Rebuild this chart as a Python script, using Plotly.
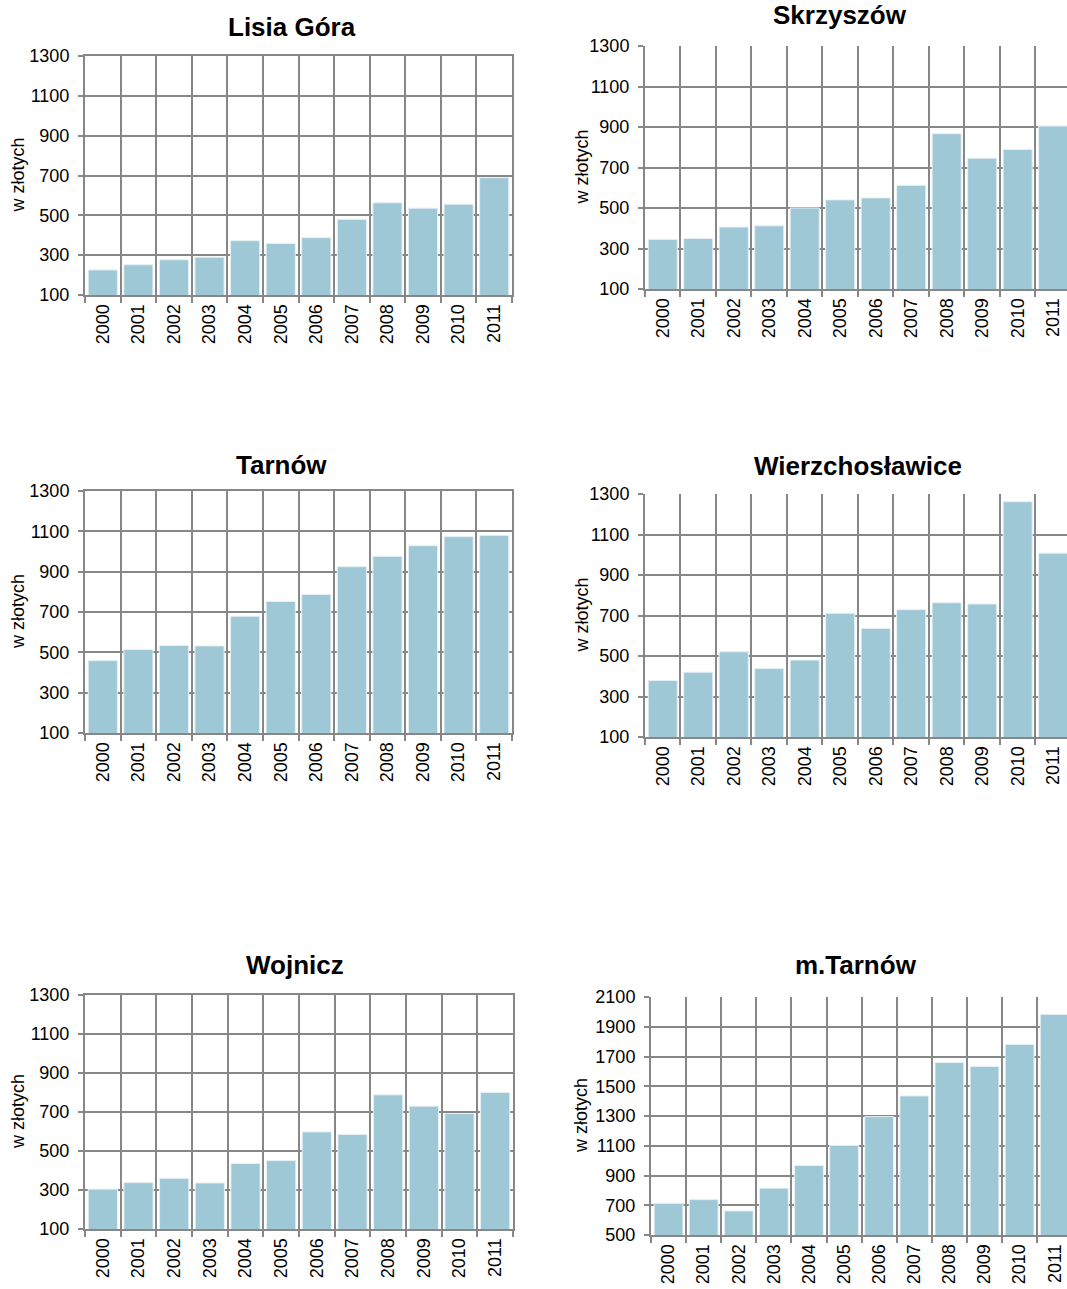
import plotly.graph_objects as go

W, H = 1067, 1289

years = ["2000", "2001", "2002", "2003", "2004", "2005", "2006", "2007", "2008", "2009", "2010", "2011"]

lisia_gora = [226, 252, 277, 290, 373, 359, 388, 480, 563, 536, 556, 689]
skrzyszow = [345, 350, 406, 412, 500, 540, 550, 612, 867, 746, 789, 905]
tarnow = [459, 514, 534, 532, 679, 752, 787, 925, 976, 1029, 1074, 1080]
wierzchoslawice = [379, 420, 521, 438, 480, 711, 636, 729, 763, 757, 1262, 1008]
wojnicz = [304, 338, 360, 336, 436, 451, 598, 585, 788, 730, 692, 800]
m_tarnow = [713, 738, 662, 815, 967, 1102, 1296, 1435, 1660, 1633, 1781, 1983]

titles = ["Lisia Góra", "Skrzyszów", "Tarnów", "Wierzchosławice", "Wojnicz", "m.Tarnów"]
series = [lisia_gora, skrzyszow, tarnow, wierzchoslawice, wojnicz, m_tarnow]
y_ranges = [[100, 1300]] * 5 + [[500, 2100]]
y_label = "w złotych"

# layout geometry in pixels: left, right, top, bottom, x range max, title center x/y, ylabel x
panels = [
    dict(l=85, r=512, t=56, b=295, xmax=11.5, tx=292, ty=27, lx=18, full=True),
    dict(l=645, r=1067, t=46, b=289, xmax=11.39, tx=840, ty=15, lx=581, full=False),
    dict(l=85, r=512, t=491, b=733, xmax=11.5, tx=281, ty=465, lx=18, full=True),
    dict(l=645, r=1067, t=494, b=737, xmax=11.39, tx=858, ty=466, lx=581, full=False),
    dict(l=85, r=513, t=995, b=1229, xmax=11.5, tx=295, ty=965, lx=18, full=True),
    dict(l=651, r=1067, t=997, b=1235, xmax=11.35, tx=856, ty=965, lx=581, full=False),
]

FONT = "Liberation Sans, Arial, sans-serif"
GRID = "#878787"
BAR = "#9FC8D7"

fig = go.Figure()
annotations = []

for i, (p, vals, ttl, yr) in enumerate(zip(panels, series, titles, y_ranges)):
    n = "" if i == 0 else str(i + 1)
    fig.add_trace(go.Bar(
        x=years, y=vals, xaxis="x" + n, yaxis="y" + n,
        marker=dict(color=BAR, line=dict(color="#E6F0F4", width=1)),
        showlegend=False, hoverinfo="x+y",
    ))
    xdom = [p["l"] / W, p["r"] / W]
    ydom = [1 - p["b"] / H, 1 - p["t"] / H]
    fig.layout["xaxis" + n] = dict(
        domain=xdom, anchor="y" + n, type="category",
        range=[-0.5, p["xmax"]], tickson="boundaries",
        showgrid=True, gridcolor=GRID, gridwidth=2,
        showline=True, linecolor=GRID, linewidth=2, mirror=p["full"],
        ticks="outside", ticklen=6, tickcolor=GRID, tickwidth=2,
        tickangle=-90, tickfont=dict(family=FONT, size=18, color="#000000"),
        fixedrange=True, zeroline=False, automargin=False,
    )
    fig.layout["yaxis" + n] = dict(
        domain=ydom, anchor="x" + n, range=yr, dtick=200, tick0=yr[0],
        showgrid=True, gridcolor=GRID, gridwidth=2,
        showline=True, linecolor=GRID, linewidth=2, mirror=p["full"],
        ticks="outside", ticklen=5, tickcolor=GRID, tickwidth=2,
        ticklabelstandoff=5,
        tickfont=dict(family=FONT, size=18, color="#000000"),
        fixedrange=True, zeroline=False, automargin=False,
    )
    annotations.append(dict(
        text="<b>" + ttl + "</b>", x=p["tx"] / W, y=1 - p["ty"] / H,
        xref="paper", yref="paper", xanchor="center", yanchor="middle",
        showarrow=False, font=dict(family=FONT, size=26, color="#000000"),
    ))
    annotations.append(dict(
        text=y_label, x=p["lx"] / W, y=1 - (p["t"] + p["b"]) / 2 / H,
        xref="paper", yref="paper", xanchor="center", yanchor="middle",
        textangle=-90, showarrow=False,
        font=dict(family=FONT, size=18, color="#000000"),
    ))

fig.update_layout(
    width=W, height=H, margin=dict(l=0, r=0, t=0, b=0, autoexpand=False),
    paper_bgcolor="white", plot_bgcolor="white",
    bargap=0.18, annotations=annotations,
)

fig.write_html(
    "out.html",
    config={"displayModeBar": False},
    post_script="document.body.style.margin='0';document.body.style.overflow='hidden';",
)
